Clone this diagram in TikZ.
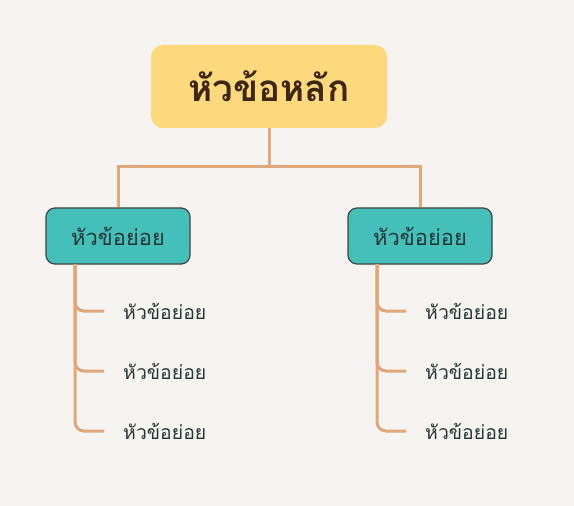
\documentclass[tikz,border=0pt]{standalone}
\usepackage{fontspec}
\usepackage{tikz}
\usetikzlibrary{positioning}
\newfontfamily\thaifont[Script=Thai]{Loma}
\definecolor{bgpaper}{HTML}{F5F4F1}
\definecolor{rootfill}{HTML}{FFD97D}
\definecolor{roottext}{HTML}{3D2817}
\definecolor{subfill}{HTML}{45BFBA}
\definecolor{subline}{HTML}{3F4444}
\definecolor{subtext}{HTML}{263636}
\definecolor{linkcol}{HTML}{E0A87A}

\begin{document}
\begin{tikzpicture}[x=1bp, y=-1bp,
  every node/.style={font=\thaifont},
  rootbox/.style={fill=rootfill, rounded corners=12bp, minimum width=236bp, minimum height=83bp, text=roottext, font=\thaifont\bfseries\fontsize{37}{44}\selectfont},
  subbox/.style={fill=subfill, draw=subline, line width=1.2bp, rounded corners=9bp, minimum width=144bp, minimum height=56bp, text=subtext, font=\thaifont\fontsize{22}{26}\selectfont},
  leafitem/.style={anchor=west, inner xsep=19bp, inner ysep=2bp, text=subtext, font=\thaifont\fontsize{19.5}{23}\selectfont},
  link/.style={draw=linkcol, line width=3bp},
  branch/.style={link, rounded corners=9bp}]
  \fill[bgpaper] (0,0) rectangle (574,506);
  \useasboundingbox (0,0) rectangle (574,506);

  \node[rootbox] (root) at (269,86.5) {หัวข้อหลัก};
  \node[subbox] (subl) at (118,236) {หัวข้อย่อย};
  \node[subbox] (subr) at (420,236) {หัวข้อย่อย};
  \coordinate (fork) at (269,167);
  \draw[link] (root.south) -- (fork);
  \draw[link] (fork) -| (subl.north);
  \draw[link] (fork) -| (subr.north);

  % leaves under the left one
  \coordinate (stemr) at (377,264);
  \coordinate (steml) at (75,264);
  \node[leafitem] (l1) at (104,311) {หัวข้อย่อย};
  \node[leafitem] (l2) at (104,371) {หัวข้อย่อย};
  \node[leafitem] (l3) at (104,431) {หัวข้อย่อย};
  \draw[branch] (steml) |- (l1.west);
  \draw[branch] (steml) |- (l2.west);
  \draw[branch] (steml) |- (l3.west);

  % leaves under the right one
  \node[leafitem] (r1) at (406,311) {หัวข้อย่อย};
  \node[leafitem] (r2) at (406,371) {หัวข้อย่อย};
  \node[leafitem] (r3) at (406,431) {หัวข้อย่อย};
  \draw[branch] (stemr) |- (r1.west);
  \draw[branch] (stemr) |- (r2.west);
  \draw[branch] (stemr) |- (r3.west);
\end{tikzpicture}
\end{document}
